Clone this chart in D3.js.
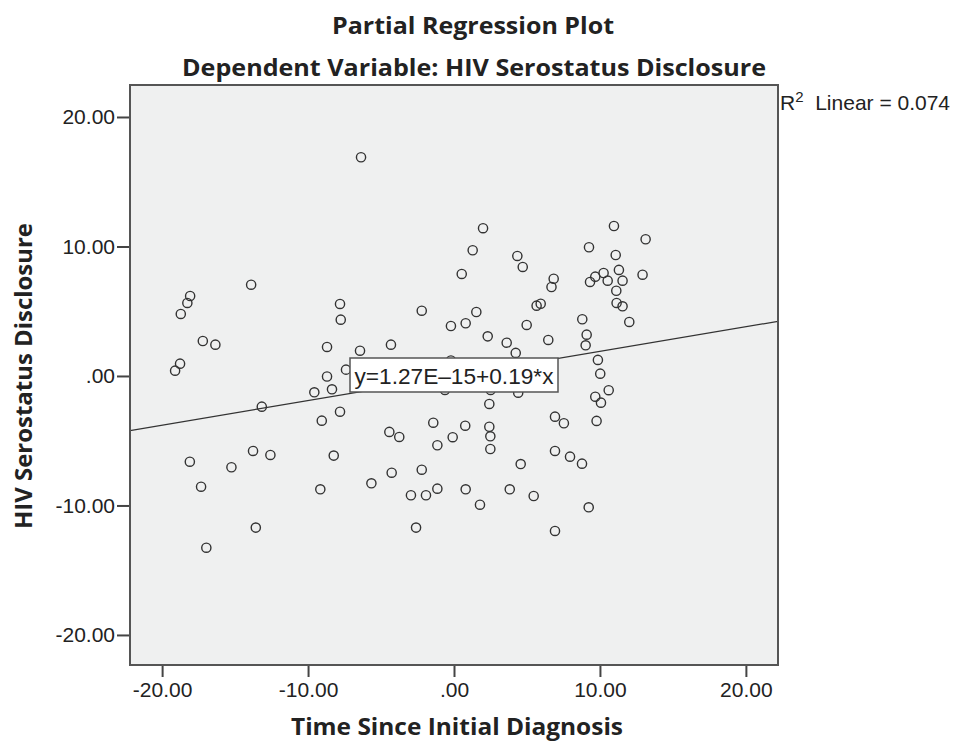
<!DOCTYPE html>
<html>
<head>
<meta charset="utf-8">
<script src="https://cdn.jsdelivr.net/npm/d3@7"></script>
<style>
  body { margin: 0; background: #fff; }
  svg { display: block; }
</style>
</head>
<body>
<script>
// values
const timeSinceDiagnosis = [
  -18.08, -18.27, -18.72, -13.90, -7.81, -7.76, -17.21, -16.35, -18.77, -19.11,
  -8.70, -7.40, -8.70, -9.57, -8.36, -13.17, -7.81, -9.06, -13.77, -12.58,
  -18.10, -15.25, -17.33, -8.24, -9.16, -13.58, -16.97, -6.37, 1.99, 1.28,
  4.34, 4.71, 0.53, 6.83, 6.68, -2.21, 1.53, 5.66, 5.94, -0.21,
  0.80, 4.98, 2.31, 3.61, 6.46, -4.32, -6.44, 4.23, -0.21, -0.62,
  2.51, 4.40, 2.42, -1.42, 0.77, 2.42, 2.49, -4.43, -3.75, -0.09,
  -1.14, 2.49, 6.92, 6.92, 4.57, -4.27, -2.21, -5.66, -2.95, -1.92,
  -1.14, 0.80, 1.78, 3.82, 5.46, -2.60, 6.92, 10.96, 13.13, 9.25,
  11.08, 11.30, 10.25, 9.68, 9.32, 10.53, 11.55, 12.92, 11.12, 11.14,
  11.55, 8.79, 12.01, 9.09, 9.02, 9.86, 10.02, 10.60, 9.68, 10.07,
  9.77, 7.53, 7.95, 8.77, 9.23
];
const serostatusDisclosure = [
  6.18, 5.64, 4.79, 7.05, 5.56, 4.35, 2.70, 2.42, 0.95, 0.41,
  2.24, 0.49, -0.04, -1.26, -1.03, -2.37, -2.76, -3.45, -5.79, -6.10,
  -6.62, -7.05, -8.55, -6.15, -8.75, -11.71, -13.26, 16.89, 11.41, 9.71,
  9.27, 8.42, 7.88, 7.51, 6.87, 5.04, 4.94, 5.43, 5.58, 3.86,
  4.07, 3.94, 3.06, 2.57, 2.78, 2.42, 1.95, 1.78, 1.20, -1.08,
  -1.08, -1.29, -2.16, -3.61, -3.84, -3.92, -4.66, -4.32, -4.71, -4.73,
  -5.35, -5.64, -3.14, -5.79, -6.80, -7.47, -7.24, -8.29, -9.21, -9.21,
  -8.70, -8.75, -9.94, -8.75, -9.27, -11.71, -11.97, 11.58, 10.56, 9.94,
  9.34, 8.19, 7.95, 7.67, 7.26, 7.36, 7.36, 7.82, 6.58, 5.64,
  5.38, 4.38, 4.17, 3.19, 2.37, 1.24, 0.18, -1.10, -1.60, -2.06,
  -3.47, -3.65, -6.23, -6.77, -10.14
];
const xTicks = [-20, -10, 0, 10, 20];
const yTicks = [-20, -10, 0, 10, 20];
const fitIntercept = 1.27e-15;
const fitSlope = 0.19;
const rSquared = 0.074;

const width = 955, height = 742;
const plotLeft = 130, plotRight = 778, plotTop = 85, plotBottom = 665;

const x = d3.scaleLinear().domain([-22.2, 22.2]).range([plotLeft, plotRight]);
const y = d3.scaleLinear().domain([-22.32, 22.47]).range([plotBottom, plotTop]);

const fmt = d => (d === 0 ? ".00" : d.toFixed(2));
const numFont = "'Liberation Sans', Arial, sans-serif";
const boldFont = "'Open Sans', sans-serif";

const svg = d3.select("body").append("svg")
  .attr("width", width)
  .attr("height", height);

// plot background
svg.append("rect")
  .attr("x", plotLeft).attr("y", plotTop)
  .attr("width", plotRight - plotLeft).attr("height", plotBottom - plotTop)
  .attr("fill", "#eff0f0");

svg.append("clipPath").attr("id", "plotclip")
  .append("rect")
  .attr("x", plotLeft).attr("y", plotTop)
  .attr("width", plotRight - plotLeft).attr("height", plotBottom - plotTop);

// fit line
const fitLine = d3.line()
  .x(d => x(d))
  .y(d => y(fitIntercept + fitSlope * d));
svg.append("path")
  .attr("clip-path", "url(#plotclip)")
  .attr("d", fitLine(x.domain()))
  .attr("fill", "none")
  .attr("stroke", "#333")
  .attr("stroke-width", 1.2);

// points
const points = timeSinceDiagnosis.map((t, i) => ({ t: t, s: serostatusDisclosure[i] }));
svg.append("g")
  .selectAll("circle")
  .data(points)
  .enter()
  .append("circle")
  .attr("cx", d => x(d.t))
  .attr("cy", d => y(d.s))
  .attr("r", 4.6)
  .attr("fill", "none")
  .attr("stroke", "#333")
  .attr("stroke-width", 1.4);

// equation box
const eq = svg.append("g");
eq.append("rect")
  .attr("x", 350).attr("y", 358)
  .attr("width", 208).attr("height", 34)
  .attr("fill", "#fff")
  .attr("stroke", "#555")
  .attr("stroke-width", 1.5);
eq.append("text")
  .attr("x", 454)
  .attr("y", 384)
  .attr("text-anchor", "middle")
  .attr("font-family", numFont)
  .attr("font-size", 22)
  .attr("fill", "#222")
  .attr("textLength", 199)
  .attr("lengthAdjust", "spacingAndGlyphs")
  .text("y=1.27E\u201315+0.19*x");

// axes
const yAxis = svg.append("g")
  .attr("transform", `translate(${plotLeft},0)`)
  .call(d3.axisLeft(y).tickValues(yTicks).tickSize(13).tickPadding(2).tickFormat(fmt));
const xAxis = svg.append("g")
  .attr("transform", `translate(0,${plotBottom})`)
  .call(d3.axisBottom(x).tickValues(xTicks).tickSize(12).tickPadding(5).tickFormat(fmt));

[yAxis, xAxis].forEach(a => {
  a.select(".domain").remove();
  a.selectAll(".tick line").attr("stroke", "#444").attr("stroke-width", 2);
  a.selectAll(".tick text")
    .attr("font-family", numFont)
    .attr("font-size", 21)
    .attr("fill", "#222");
});

// plot border
svg.append("rect")
  .attr("x", plotLeft).attr("y", plotTop)
  .attr("width", plotRight - plotLeft).attr("height", plotBottom - plotTop)
  .attr("fill", "none")
  .attr("stroke", "#555")
  .attr("stroke-width", 2);

// titles
function boldText(tx, ty, str, len, size) {
  return svg.append("text")
    .attr("x", tx).attr("y", ty)
    .attr("text-anchor", "middle")
    .attr("font-family", boldFont)
    .attr("font-weight", "bold")
    .attr("font-size", size)
    .attr("fill", "#222")
    .attr("textLength", len)
    .attr("lengthAdjust", "spacingAndGlyphs")
    .text(str);
}
boldText(473, 34, "Partial Regression Plot", 282, 24);
boldText(474, 76, "Dependent Variable: HIV Serostatus Disclosure", 584, 23);
boldText(457, 735, "Time Since Initial Diagnosis", 332, 23);
boldText(0, 0, "HIV Serostatus Disclosure", 306, 23)
  .attr("transform", "translate(32,376) rotate(-90)");

// R squared label
const r2 = svg.append("text")
  .attr("x", 780).attr("y", 110)
  .attr("font-family", numFont)
  .attr("font-size", 21)
  .attr("fill", "#222");
r2.append("tspan").text("R");
r2.append("tspan").attr("dy", -8).attr("font-size", 15).text("2");
r2.append("tspan").attr("dy", 8).text("\u00a0 Linear = " + rSquared.toFixed(3));
</script>
</body>
</html>
